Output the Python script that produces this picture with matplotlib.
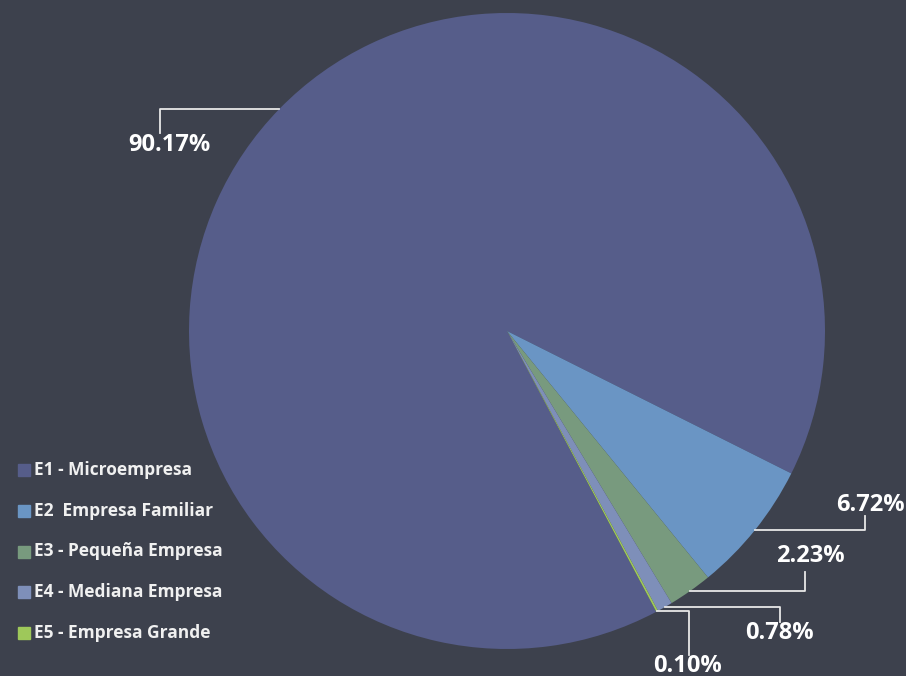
import numpy as np
import matplotlib.pyplot as plt
from matplotlib.patches import Rectangle

# datos
categorias = ['E1 - Microempresa', 'E2  Empresa Familiar', 'E3 - Pequeña Empresa',
              'E4 - Mediana Empresa', 'E5 - Empresa Grande']
porcentajes = [90.17, 6.72, 2.23, 0.78, 0.10]
etiquetas = ['90.17%', '6.72%', '2.23%', '0.78%', '0.10%']
colores = ['#565d8a', '#6a95c4', '#789a7e', '#7e8fb9', '#9ec85a']

W, H = 906, 676
fondo = '#3d414d'
fuente = 'Open Sans'

fig = plt.figure(figsize=(W / 100, H / 100), dpi=100)
fig.patch.set_facecolor(fondo)
ax = fig.add_axes([0, 0, 1, 1])
ax.set_facecolor(fondo)

cx, cy, r = 507, H - 331, 318
wedges, _ = ax.pie(porcentajes, colors=colores, startangle=298, counterclock=False,
                   center=(cx, cy), radius=r, wedgeprops=dict(linewidth=0))
ax.set_xlim(0, W)
ax.set_ylim(0, H)
ax.set_aspect('equal')
ax.axis('off')

# posiciones de las etiquetas (pixeles, y hacia abajo)
pos_etiq = [(169, 145), (870, 505), (810, 556), (779, 633), (688, 666)]
codo_x = [160, 865, 805, 780, 689]
fin_y = [133, 516, 572, 622, 655]

for w, txt, (lx, ly), ex, ey in zip(wedges, etiquetas, pos_etiq, codo_x, fin_y):
    ang = np.radians((w.theta1 + w.theta2) / 2)
    x0 = cx + r * np.cos(ang)
    y0 = cy + r * np.sin(ang)
    ax.plot([x0, ex, ex], [y0, y0, H - ey], color='#e8e8e8', lw=1.3)
    ax.text(lx, H - ly, txt, ha='center', va='center', color='white',
            fontsize=17, fontweight='bold', family=fuente)

# leyenda
for i, (nom, col) in enumerate(zip(categorias, colores)):
    yy = 470 + i * 40.75
    ax.add_patch(Rectangle((18, H - yy - 6), 12, 12, color=col))
    ax.text(34, H - yy, nom, ha='left', va='center', color='#f0f0f0',
            fontsize=12.5, fontweight='bold', family=fuente)

plt.savefig('out.png', dpi=100, facecolor=fondo)
